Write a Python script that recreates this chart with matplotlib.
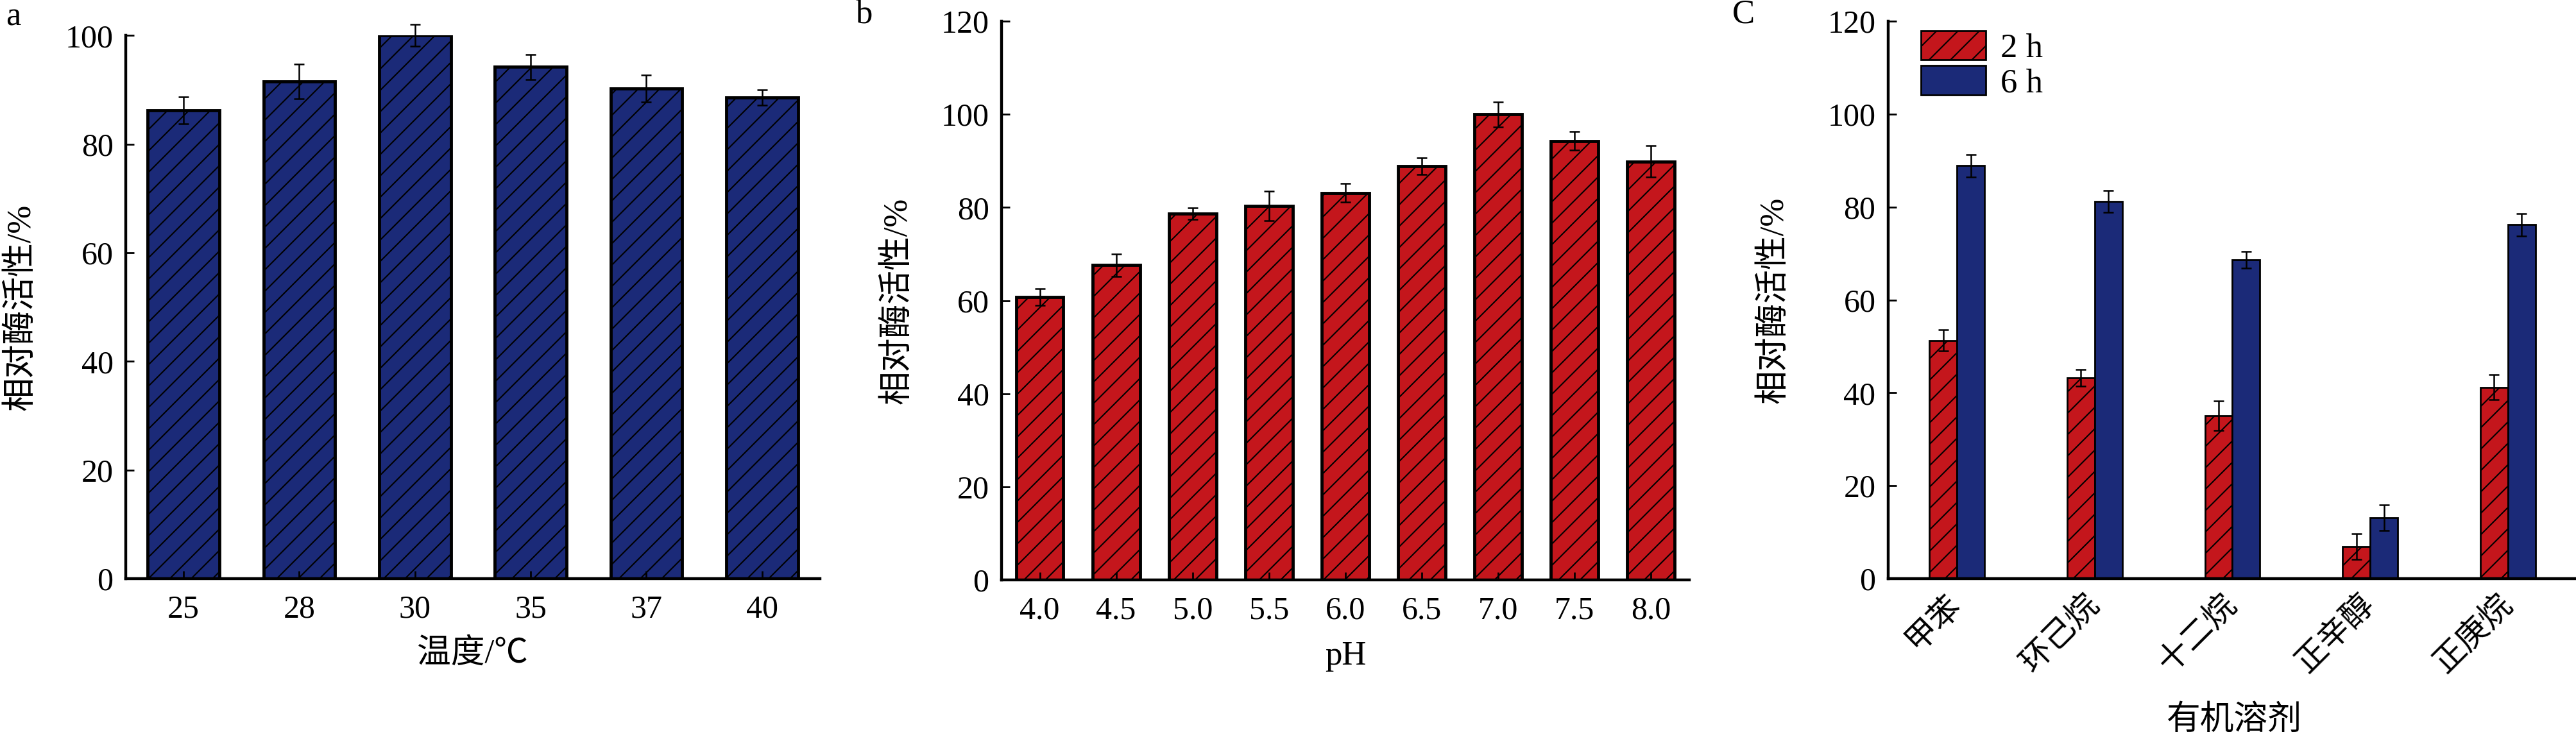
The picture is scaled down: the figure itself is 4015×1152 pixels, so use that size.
import numpy as np
import matplotlib
matplotlib.use('Agg')
import matplotlib.pyplot as plt

# panel a: temperature
temps = ['25', '28', '30', '35', '37', '40']
temp_act = [86.2, 91.5, 100.0, 94.2, 90.2, 88.6]
temp_err = [2.5, 3.2, 2.0, 2.3, 2.5, 1.4]

# panel b: pH
ph_labels = ['4.0', '4.5', '5.0', '5.5', '6.0', '6.5', '7.0', '7.5', '8.0']
ph_act = [60.8, 67.6, 78.7, 80.3, 83.1, 88.9, 100.0, 94.3, 89.9]
ph_err = [1.8, 2.4, 1.2, 3.2, 2.0, 1.8, 2.7, 2.0, 3.4]

# panel c: organic solvents
solvents = ['甲苯', '环己烷', '十二烷', '正辛醇', '正庚烷']
act_2h = [51.3, 43.2, 35.1, 6.9, 41.2]
err_2h = [2.3, 1.8, 3.2, 2.7, 2.7]
act_6h = [88.9, 81.2, 68.6, 13.1, 76.2]
err_6h = [2.4, 2.3, 1.8, 2.8, 2.4]

BLUE = '#1b2a78'
RED = '#c4161c'
FONT = ['Liberation Serif', 'Noto Sans CJK SC', 'DejaVu Sans']

plt.rcParams['font.family'] = FONT
plt.rcParams['hatch.linewidth'] = 1.5
plt.rcParams['hatch.color'] = 'black'

fs_tick = 36
fs_label = 38

fig = plt.figure(figsize=(40.16, 11.52), dpi=100)
ax_a = fig.add_axes([0.0488, 0.217, 0.2694, 0.735])
ax_b = fig.add_axes([0.3887, 0.2153, 0.2669, 0.756])
ax_c = fig.add_axes([0.7328, 0.217, 0.2672, 0.7543])


def style(ax):
    for s in ['top', 'right']:
        ax.spines[s].set_visible(False)
    for s in ['left', 'bottom']:
        ax.spines[s].set_linewidth(3.2)
    ax.tick_params(direction='in', width=2, length=9, labelsize=fs_tick)
    ax.tick_params(axis='y', pad=14)
    ax.tick_params(axis='x', pad=18)


errkw = dict(ecolor='black', elinewidth=1.8, capsize=6, capthick=1.8)

# a
x = np.arange(len(temps))
ax_a.bar(x, temp_act, width=0.62, color=BLUE, edgecolor='black', linewidth=3.5,
         hatch='/', yerr=temp_err, error_kw=dict(errkw, clip_on=False))
ax_a.set_xlim(-0.5, 5.5)
ax_a.set_ylim(0, 100)
ax_a.set_yticks(range(0, 101, 20))
ax_a.set_xticks(x)
ax_a.set_xticklabels(temps)
style(ax_a)
ax_a.set_ylabel('相对酶活性/%', fontsize=fs_label)
ax_a.set_xlabel('温度/℃', fontsize=fs_label)
ax_a.yaxis.set_label_coords(-0.128, 0.5)
ax_a.xaxis.set_label_coords(0.5, -0.11)

# b
x = np.arange(len(ph_labels))
ax_b.bar(x, ph_act, width=0.62, color=RED, edgecolor='black', linewidth=3.5,
         hatch='/', yerr=ph_err, error_kw=errkw)
ax_b.set_xlim(-0.5, 8.5)
ax_b.set_ylim(0, 120)
ax_b.set_yticks(range(0, 121, 20))
ax_b.set_xticks(x)
ax_b.set_xticklabels(ph_labels)
style(ax_b)
ax_b.set_ylabel('相对酶活性/%', fontsize=fs_label)
ax_b.set_xlabel('pH', fontsize=fs_label)
ax_b.yaxis.set_label_coords(-0.128, 0.5)
ax_b.xaxis.set_label_coords(0.5, -0.109)

# c
x = np.arange(len(solvents))
w = 0.2
ax_c.bar(x - w / 2, act_2h, width=w, color=RED, edgecolor='black', linewidth=2,
         hatch='/', yerr=err_2h, error_kw=errkw, label='2 h')
ax_c.bar(x + w / 2, act_6h, width=w, color=BLUE, edgecolor='black', linewidth=2,
         yerr=err_6h, error_kw=errkw, label='6 h')
ax_c.set_xlim(-0.5, 4.5)
ax_c.set_ylim(0, 120)
ax_c.set_yticks(range(0, 121, 20))
ax_c.set_xticks(x)
ax_c.set_xticklabels(solvents, rotation=45, ha='right', va='center',
                     rotation_mode='anchor', fontsize=42)
style(ax_c)
ax_c.tick_params(axis='x', pad=24)
ax_c.set_ylabel('相对酶活性/%', fontsize=fs_label)
ax_c.set_xlabel('有机溶剂', fontsize=fs_label)
ax_c.yaxis.set_label_coords(-0.143, 0.5)
ax_c.xaxis.set_label_coords(0.503, -0.227)
ax_c.legend(loc='upper left', bbox_to_anchor=(0.048, 0.983), frameon=False,
            fontsize=fs_label, handlelength=1.9, handleheight=0.95,
            labelspacing=0.05, handletextpad=0.45, borderpad=0, borderaxespad=0)

fig.text(9 / 4016, 1 - 26 / 1152, 'a', fontsize=fs_label, va='center', ha='left')
fig.text(1346 / 4016, 1 - 22 / 1152, 'b', fontsize=fs_label, va='center', ha='center')
fig.text(2717 / 4016, 1 - 22 / 1152, 'C', fontsize=fs_label, va='center', ha='center')

fig.savefig('out.png', dpi=100)
